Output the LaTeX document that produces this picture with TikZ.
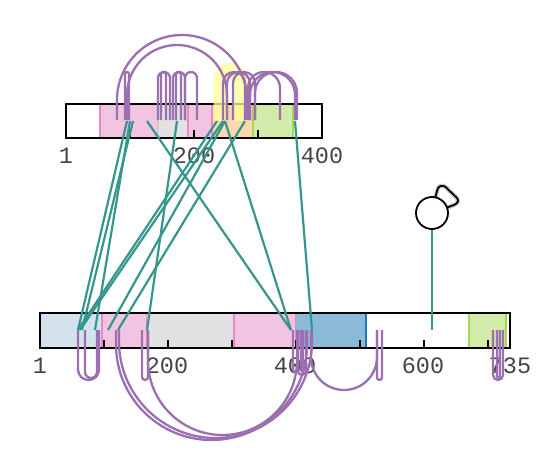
\documentclass[tikz,border=0pt]{standalone}
\usepackage{fontspec}
\newfontfamily\labfont{Liberation Mono}
\definecolor{pinkf}{HTML}{F3C4E1}
\definecolor{pinkd}{HTML}{E78AC3}
\definecolor{grayf}{HTML}{E2E2E2}
\definecolor{grayd}{HTML}{CCCCCC}
\definecolor{lbluef}{HTML}{D4E2EE}
\definecolor{bluef}{HTML}{8BBAD9}
\definecolor{blued}{HTML}{1F78B4}
\definecolor{greenf}{HTML}{D2EBA8}
\definecolor{greend}{HTML}{A6D854}
\definecolor{orangef}{HTML}{FDD8AE}
\definecolor{hilite}{HTML}{FFFF99}
\definecolor{loopc}{HTML}{9B6FB0}
\definecolor{linkc}{HTML}{35968C}
\definecolor{labc}{HTML}{444444}
\begin{document}
\begin{tikzpicture}[x=1pt,y=-1pt,
  protbar/.style={draw=black,line width=2pt,inner sep=0pt},
  lab/.style={font=\labfont\fontsize{23.5}{24}\selectfont,text=labc,inner sep=0pt},
  tick/.style={draw=black,line width=1.6pt},
  selfloop/.style={draw=loopc,line width=2.3pt},
  xlink/.style={draw=linkc,line width=2.2pt},
]
\useasboundingbox (0,0) rectangle (550,450);
% ---------- top protein ----------
\fill[white] (66,104) rectangle (322,138);
\fill[pinkf] (100,104) rectangle (212,138);
\draw[pinkd,line width=1.2pt] (100,104) -- (100,138);
\fill[grayf] (158,104) rectangle (188,138);
\draw[grayd,line width=1.2pt] (158,104) -- (158,138);
\draw[pinkd,line width=1.2pt] (188,104) -- (188,138);
\fill[orangef] (212,104) rectangle (253,138);
\draw[pinkd,line width=1.2pt] (212,104) -- (212,138);
\fill[greenf] (253,104) rectangle (293,138);
\draw[greend,line width=1.2pt] (253,104) -- (253,138) (293,104) -- (293,138);
\node[protbar,minimum width=256pt,minimum height=34pt] (topbar) at (194,121) {};
\foreach \x in {130,194,258} \draw[tick] (\x,138) -- (\x,130);
\node[lab] (t1) at (66,156) {1};
\node[lab] (t200) at (194,156) {200};
\node[lab] (t400) at (322,156) {400};
% highlight
\draw[hilite,opacity=0.75,line width=14pt] (220.5,121) -- (220.5,80) arc[start angle=180,end angle=0,radius=10.25pt] -- (241,121);
% ---------- bottom protein ----------
\fill[white] (40,313) rectangle (510,348);
\fill[lbluef] (40,313) rectangle (102,348);
\fill[pinkf] (102,313) rectangle (147,348);
\draw[pinkd,line width=1.2pt] (102,313) -- (102,348) (147,313) -- (147,348);
\fill[grayf] (147,313) rectangle (234,348);
\fill[pinkf] (234,313) rectangle (296,348);
\draw[pinkd,line width=1.2pt] (234,313) -- (234,348) (296,313) -- (296,348);
\fill[bluef] (296,313) rectangle (366,348);
\draw[blued,line width=1.5pt] (366,313) -- (366,348);
\fill[greenf] (469,313) rectangle (506,348);
\draw[greend,line width=1.2pt] (469,313) -- (469,348) (506,313) -- (506,348);
\node[protbar,minimum width=470pt,minimum height=35pt] (botbar) at (275,330.5) {};
\foreach \x in {104,168,232,296,360,424,488} \draw[tick] (\x,348) -- (\x,340);
\node[lab] (b1) at (40,366) {1};
\node[lab] (b200) at (167,366) {200};
\node[lab] (b400) at (295,366) {400};
\node[lab] (b600) at (423,366) {600};
\node[lab] (b735) at (510,366) {735};
% ---------- self links, top ----------
\foreach \a/\b/\t in {117/247/35, 127/227/45, 125/129/72, 158/170/72, 161/166/72,
   173/185/72, 176/181/72, 185/197/72, 223/245/72, 227/250/72, 233/255/72,
   248/280/72, 250/295/72, 255/297/72}{
  \pgfmathsetmacro\r{(\b-\a)/2}
  \draw[selfloop] (\a,120) -- (\a,\t+\r) arc[start angle=180,end angle=0,radius=\r pt] -- (\b,120);
}
% ---------- self links, bottom ----------
\foreach \a/\b/\t in {78/99/380, 85/97/378, 142/148/380, 116/307/440, 119/312/438,
   148/297/435, 293/298/372, 298/306/375, 301/303/371, 311/377/390, 377/382/380,
   493/503/380, 497/500/378}{
  \pgfmathsetmacro\r{(\b-\a)/2}
  \draw[selfloop] (\a,330) -- (\a,\t-\r) arc[start angle=180,end angle=360,radius=\r pt] -- (\b,330);
}
% ---------- cross links ----------
\foreach \n in {127,130,133,147,177,217,223,225,245,295} \coordinate (u\n) at (\n,121);
\foreach \n in {78,80,82,95,108,118,147,291,312} \coordinate (v\n) at (\n,330);
\foreach \a/\b in {127/78,130/95,133/82,147/291,177/147,217/78,223/80,225/108,245/118,225/291,295/312}
  \draw[xlink] (u\a) -- (v\b);
% ---------- modification marker ----------
\coordinate (m) at (432,330);
\def\flagpath{(435,199) -- (437,191) .. controls (438,186) and (441,185) .. (445,186.5) -- (456,197) .. controls (459.5,200) and (458,203) .. (455,204.5) -- (446,208)}
\draw[gray!40,line width=4.5pt,line join=round] \flagpath;
\draw[black,line width=1.8pt,line join=round] \flagpath;
\node[circle,draw=black,fill=white,line width=1.8pt,minimum size=32pt,inner sep=0pt] (mod) at (432,213) {};
\draw[xlink] (mod.south) -- (m);
\end{tikzpicture}
\end{document}
